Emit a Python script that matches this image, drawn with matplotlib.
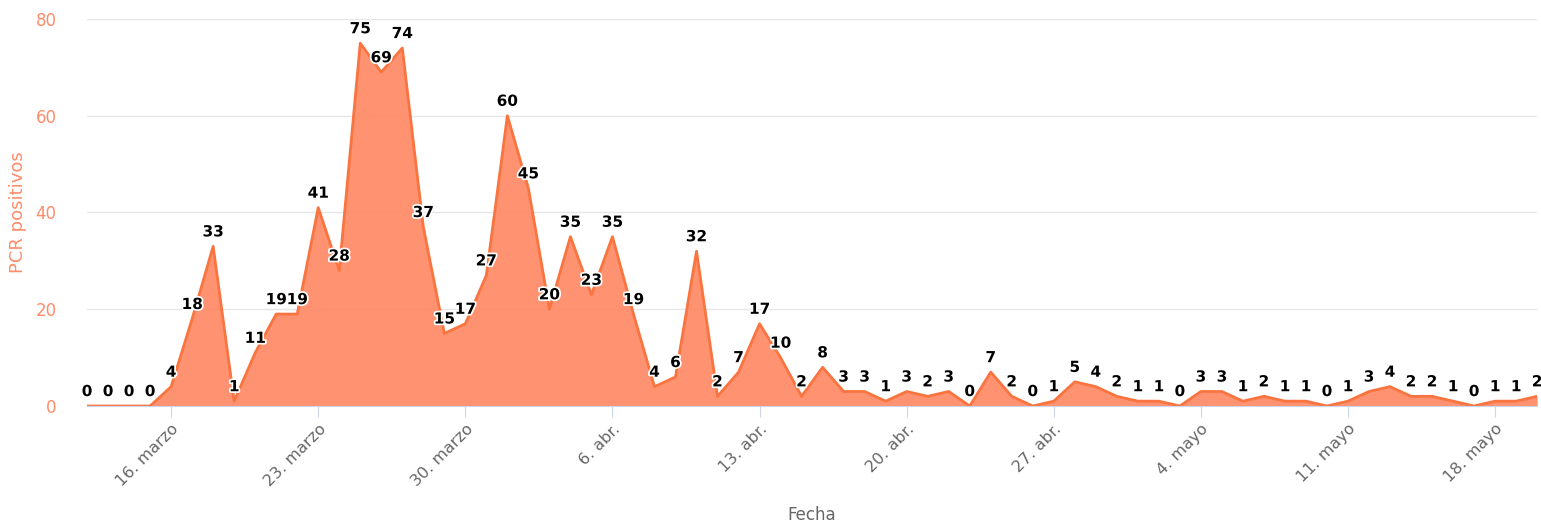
import numpy as np
import pandas as pd
import matplotlib
matplotlib.use('Agg')
import matplotlib.pyplot as plt
import matplotlib.patheffects as pe

start = '2020-03-12'
values = [0, 0, 0, 0, 4, 18, 33, 1, 11, 19, 19, 41, 28, 75, 69, 74, 37, 15, 17, 27,
          60, 45, 20, 35, 23, 35, 19, 4, 6, 32, 2, 7, 17, 10, 2, 8, 3, 3, 1, 3,
          2, 3, 0, 7, 2, 0, 1, 5, 4, 2, 1, 1, 0, 3, 3, 1, 2, 1, 1, 0,
          1, 3, 4, 2, 2, 1, 0, 1, 1, 2]
tick_dates = ['2020-03-16', '2020-03-23', '2020-03-30', '2020-04-06', '2020-04-13',
              '2020-04-20', '2020-04-27', '2020-05-04', '2020-05-11', '2020-05-18']
tick_labels = ['16. marzo', '23. marzo', '30. marzo', '6. abr.', '13. abr.',
               '20. abr.', '27. abr.', '4. mayo', '11. mayo', '18. mayo']
yticks = [0, 20, 40, 60, 80]

dates = pd.date_range(start, periods=len(values), freq='D')
x = np.arange(len(values))
tick_pos = [(pd.Timestamp(d) - dates[0]).days for d in tick_dates]

orange = '#ff8c69'
line_col = '#f9743f'
grid_col = '#e6e6e6'
axis_col = '#ccd6eb'

fig = plt.figure(figsize=(15.41, 5.23), dpi=100)
ax = fig.add_axes([0.0565, 0.2237, 0.941, 0.74])

ax.fill_between(x, values, 0, color=orange, alpha=0.95, lw=0, zorder=2)
ax.plot(x, values, color=line_col, lw=2, zorder=3)

for xi, v in zip(x, values):
    t = ax.annotate(str(v), (xi, v), xytext=(0, 5), textcoords='offset points',
                    ha='center', va='bottom', fontsize=11, fontweight='bold',
                    color='black', zorder=5, family='DejaVu Sans')
    t.set_path_effects([pe.withStroke(linewidth=2.5, foreground='white')])

ax.set_xlim(0, len(values) - 1)
ax.set_ylim(0, 80)
ax.set_yticks(yticks)
ax.set_yticklabels([str(v) for v in yticks], color=orange, fontsize=12)
ax.set_xticks(tick_pos)
ax.set_xticklabels(tick_labels, rotation=45, ha='right', rotation_mode='anchor',
                   color='#666666', fontsize=11.5)

ax.grid(axis='y', color=grid_col, lw=1, zorder=0)
ax.set_axisbelow(True)
for s in ['top', 'right', 'left']:
    ax.spines[s].set_visible(False)
ax.spines['bottom'].set_color(axis_col)
ax.spines['bottom'].set_zorder(4)
ax.tick_params(axis='y', length=0, pad=22)
ax.tick_params(axis='x', length=8, color=axis_col, pad=3)

ax.set_ylabel('PCR positivos', color=orange, fontsize=13, labelpad=6)
ax.set_xlabel('Fecha', color='#666666', fontsize=12, labelpad=12)

fig.savefig('out.png', dpi=100)
